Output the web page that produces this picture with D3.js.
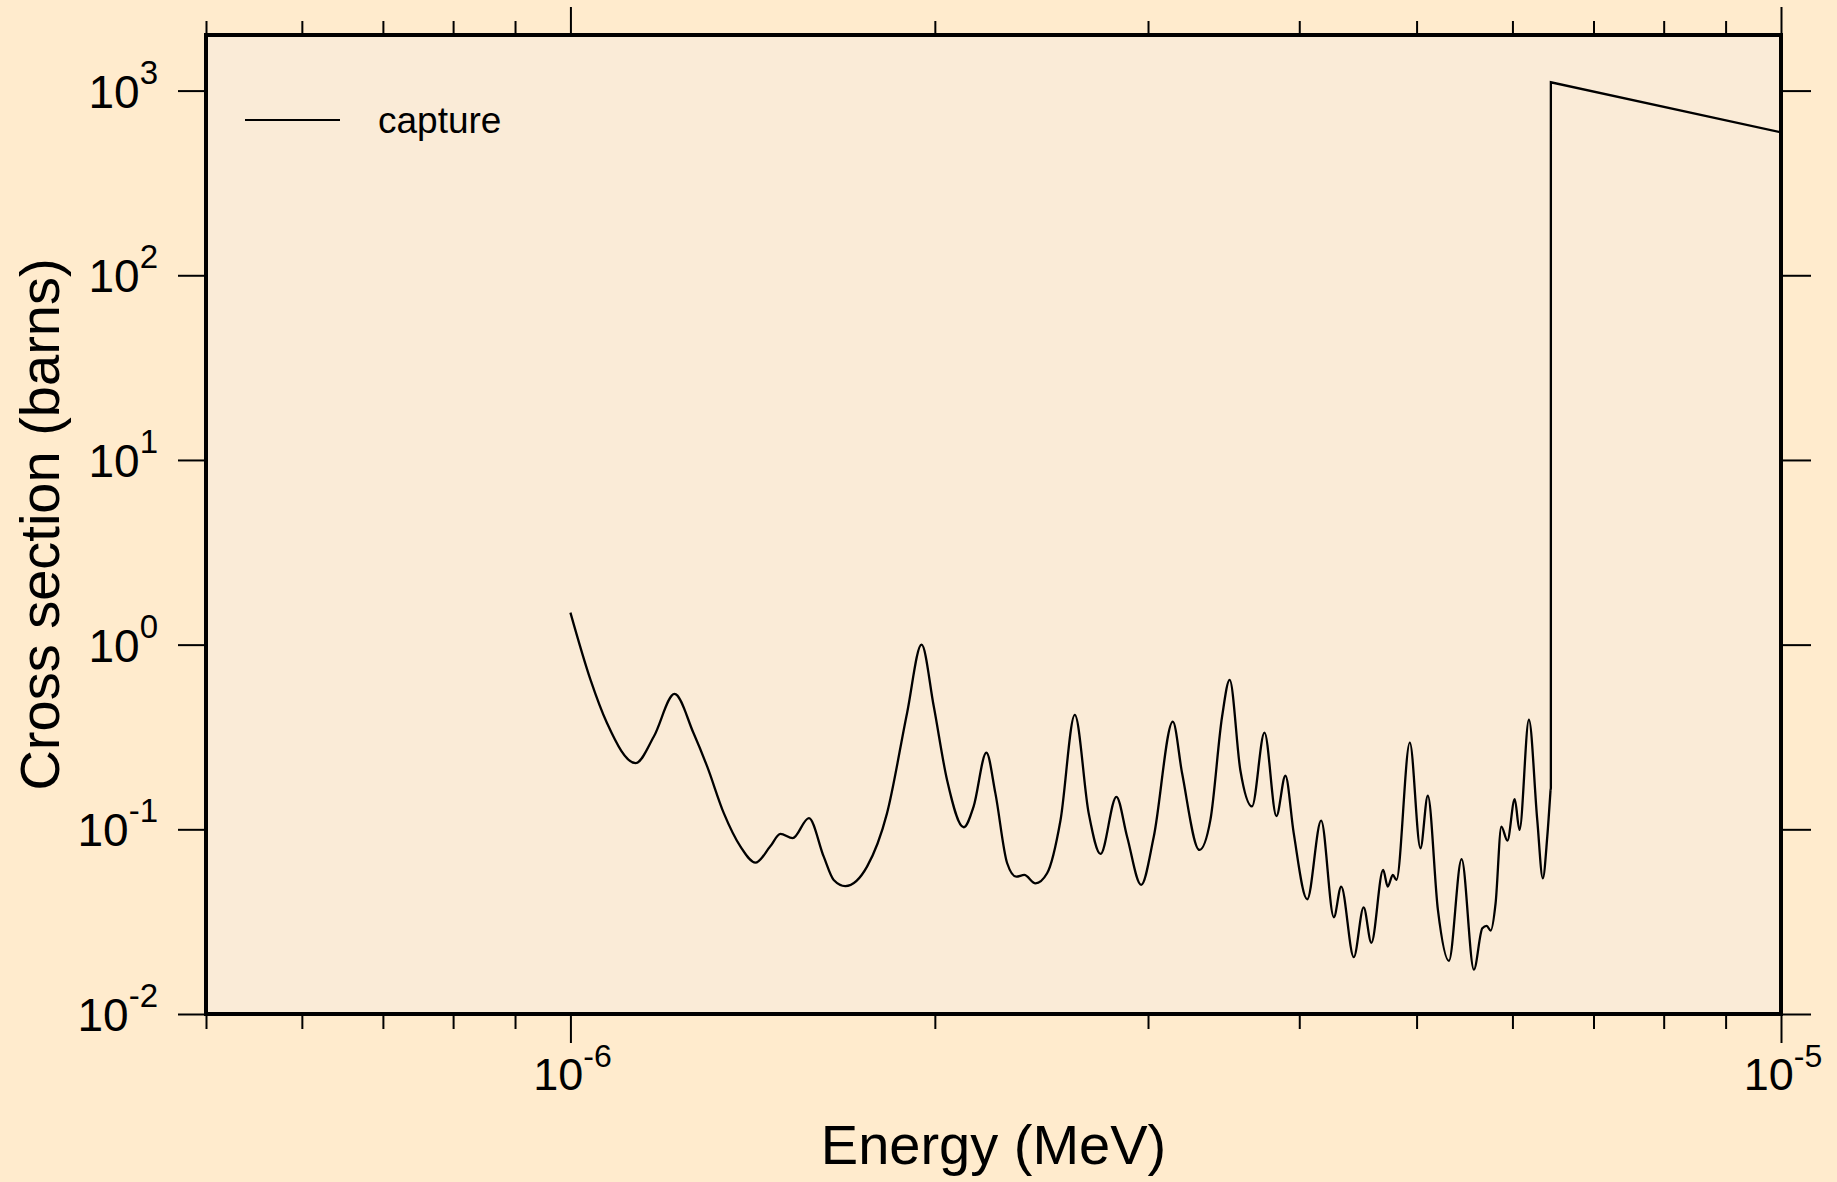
<!DOCTYPE html>
<html>
<head>
<meta charset="utf-8">
<script src="https://cdn.jsdelivr.net/npm/d3@7"></script>
<style>
  body { margin: 0; background: #ffebcd; }
  text { font-family: "Liberation Sans", Arial, sans-serif; fill: #000; }
</style>
</head>
<body>
<svg id="chart" width="1837" height="1182"></svg>
<script>
// energies in MeV, cross sections in barns
var energy = [
  1.000e-6, 1.039e-6, 1.072e-6, 1.132e-6, 1.172e-6, 1.219e-6, 1.264e-6, 1.297e-6,
  1.339e-6, 1.382e-6, 1.422e-6, 1.462e-6, 1.491e-6, 1.526e-6, 1.574e-6, 1.619e-6,
  1.650e-6, 1.687e-6, 1.758e-6, 1.826e-6, 1.897e-6, 1.950e-6, 1.996e-6, 2.047e-6,
  2.113e-6, 2.153e-6, 2.206e-6, 2.244e-6, 2.295e-6, 2.335e-6, 2.371e-6, 2.422e-6,
  2.476e-6, 2.540e-6, 2.610e-6, 2.680e-6, 2.741e-6, 2.825e-6, 2.883e-6, 2.961e-6,
  3.033e-6, 3.145e-6, 3.201e-6, 3.308e-6, 3.378e-6, 3.454e-6, 3.504e-6, 3.576e-6,
  3.656e-6, 3.744e-6, 3.830e-6, 3.896e-6, 3.958e-6, 4.061e-6, 4.170e-6, 4.272e-6,
  4.332e-6, 4.437e-6, 4.521e-6, 4.588e-6, 4.692e-6, 4.733e-6, 4.779e-6, 4.812e-6,
  4.936e-6, 5.037e-6, 5.108e-6, 5.207e-6, 5.317e-6, 5.447e-6, 5.576e-6, 5.666e-6,
  5.713e-6, 5.757e-6, 5.811e-6, 5.875e-6, 5.943e-6, 6.026e-6, 6.081e-6, 6.191e-6,
  6.290e-6, 6.357e-6, 6.411e-6, 6.451e-6
];
var sigma = [
  1.49, 0.644, 0.376, 0.228, 0.318, 0.541, 0.331, 0.219,
  0.122, 0.0806, 0.066, 0.0806, 0.0944, 0.0895, 0.115, 0.0711,
  0.0532, 0.0493, 0.0628, 0.122, 0.4256, 1.0, 0.462, 0.185,
  0.1026, 0.1327, 0.260, 0.157, 0.0655, 0.0554, 0.0566, 0.051,
  0.0578, 0.112, 0.417, 0.122, 0.0736, 0.150, 0.0912, 0.050,
  0.0912, 0.383, 0.201, 0.0773, 0.1125, 0.408, 0.645, 0.209,
  0.133, 0.334, 0.118, 0.195, 0.0953, 0.0418, 0.1115, 0.0334,
  0.049, 0.0203, 0.0378, 0.0243, 0.0603, 0.049, 0.0566, 0.0532,
  0.295, 0.079, 0.152, 0.0366, 0.0194, 0.0689, 0.0174, 0.0291,
  0.030, 0.0283, 0.0398, 0.1035, 0.0869, 0.1456, 0.0993, 0.392,
  0.1125, 0.0543, 0.0912, 0.163
];
// step up and the smooth part above the resonance region
var tailEnergy = [6.451e-6, 6.455e-6, 6.455e-6, 1.0e-5];
var tailSigma = [0.163, 0.167, 1109, 594];

var xMajor = [1e-6, 1e-5];
var xMinor = [5e-7, 6e-7, 7e-7, 8e-7, 9e-7, 2e-6, 3e-6, 4e-6, 5e-6, 6e-6, 7e-6, 8e-6, 9e-6];
var xLabels = ["-6", "-5"];
var yMajor = [1e-2, 1e-1, 1e0, 1e1, 1e2, 1e3];
var yLabels = ["-2", "-1", "0", "1", "2", "3"];
var seriesName = "capture";

var svg = d3.select("#chart");
var plotL = 206, plotR = 1781, plotT = 35, plotB = 1014;

var x = d3.scaleLog().domain([5e-7, 1e-5]).range([plotL, plotR]);
var y = d3.scaleLog().domain([1e-2, 2e3]).range([plotB, plotT]);

svg.append("rect").attr("x", plotL).attr("y", plotT)
  .attr("width", plotR - plotL).attr("height", plotB - plotT)
  .attr("fill", "#faebd7");

svg.append("clipPath").attr("id", "clip").append("rect")
  .attr("x", plotL).attr("y", plotT).attr("width", plotR - plotL).attr("height", plotB - plotT);

// --- axes ---
function styleAxis(g) {
  g.select(".domain").remove();
  g.selectAll(".tick line").attr("stroke", "#000").attr("stroke-width", 2);
  g.selectAll(".tick text").remove();
}
svg.append("g").attr("transform", "translate(0," + plotB + ")")
  .call(d3.axisBottom(x).tickValues(xMinor).tickSize(15).tickFormat("")).call(styleAxis);
svg.append("g").attr("transform", "translate(0," + plotB + ")")
  .call(d3.axisBottom(x).tickValues(xMajor).tickSize(29).tickFormat("")).call(styleAxis);
svg.append("g").attr("transform", "translate(0," + plotT + ")")
  .call(d3.axisTop(x).tickValues(xMinor).tickSize(14).tickFormat("")).call(styleAxis);
svg.append("g").attr("transform", "translate(0," + plotT + ")")
  .call(d3.axisTop(x).tickValues(xMajor).tickSize(28).tickFormat("")).call(styleAxis);
svg.append("g").attr("transform", "translate(" + plotL + ",0)")
  .call(d3.axisLeft(y).tickValues(yMajor).tickSize(28).tickFormat("")).call(styleAxis);
svg.append("g").attr("transform", "translate(" + plotR + ",0)")
  .call(d3.axisRight(y).tickValues(yMajor).tickSize(30).tickFormat("")).call(styleAxis);

// tick labels as 10 with superscript
xMajor.forEach(function(v, i) {
  var t = svg.append("text").attr("x", x(v) + 2).attr("y", plotB + 76)
    .attr("text-anchor", "middle").attr("font-size", 45);
  t.append("tspan").text("10");
  t.append("tspan").attr("font-size", 32).attr("dy", -23).text(xLabels[i]);
});
yMajor.forEach(function(v, i) {
  var t = svg.append("text").attr("x", 158).attr("y", y(v) + 17)
    .attr("text-anchor", "end").attr("font-size", 46);
  t.append("tspan").text("10");
  t.append("tspan").attr("font-size", 33).attr("dy", -24).text(yLabels[i]);
});

// axis titles
svg.append("text").attr("x", (plotL + plotR) / 2).attr("y", 1164)
  .attr("text-anchor", "middle").attr("font-size", 56).text("Energy (MeV)");
svg.append("text").attr("transform", "translate(59," + (plotT + plotB) / 2 + ") rotate(-90)")
  .attr("text-anchor", "middle").attr("font-size", 56).text("Cross section (barns)");

// --- curve ---
var pts = energy.map(function(e, i) { return [e, sigma[i]]; });
var tail = tailEnergy.map(function(e, i) { return [e, tailSigma[i]]; });

var smooth = d3.line().x(function(d) { return x(d[0]); }).y(function(d) { return y(d[1]); })
  .curve(d3.curveMonotoneX);
var straight = d3.line().x(function(d) { return x(d[0]); }).y(function(d) { return y(d[1]); });

var plot = svg.append("g").attr("clip-path", "url(#clip)");
plot.append("path").attr("d", smooth(pts)).attr("fill", "none")
  .attr("stroke", "#000").attr("stroke-width", 2.3);
plot.append("path").attr("d", straight(tail)).attr("fill", "none")
  .attr("stroke", "#000").attr("stroke-width", 2.3).attr("stroke-linejoin", "miter");

// legend
svg.append("line").attr("x1", 245).attr("x2", 340).attr("y1", 120).attr("y2", 120)
  .attr("stroke", "#000").attr("stroke-width", 2);
svg.append("text").attr("x", 378).attr("y", 133).attr("font-size", 37).text(seriesName);

// frame
svg.append("rect").attr("x", plotL).attr("y", plotT)
  .attr("width", plotR - plotL).attr("height", plotB - plotT)
  .attr("fill", "none").attr("stroke", "#000").attr("stroke-width", 4);
</script>
</body>
</html>
